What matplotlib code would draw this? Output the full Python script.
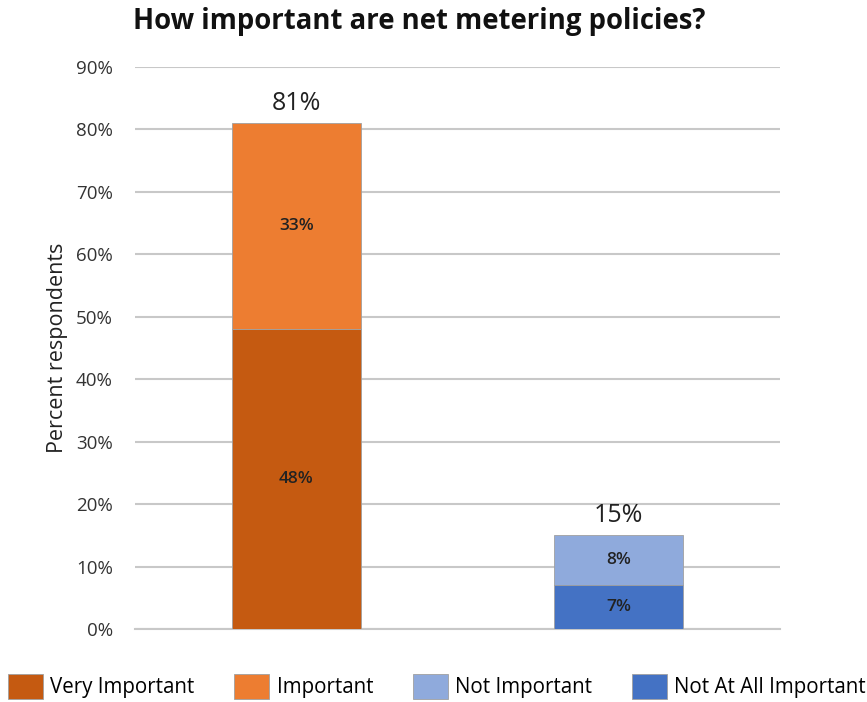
import matplotlib
matplotlib.use("Agg")
import matplotlib.pyplot as plt
import numpy as np

categories = ["Important", "Not Important"]
very_important = [48, 0]
important = [33, 0]
not_at_all = [0, 7]
not_important = [0, 8]
totals = [81, 15]
yticks = [0, 10, 20, 30, 40, 50, 60, 70, 80, 90]

plt.rcParams['font.family'] = ['Open Sans', 'DejaVu Sans']

fig = plt.figure(figsize=(8.67, 7.02), dpi=100)
ax = fig.add_axes([135/867, 1-629/702, 645/867, (629-67)/702])

x = np.arange(len(categories))
w = 0.4
c_vi, c_i, c_ni, c_na = "#C55A11", "#ED7D31", "#8FAADC", "#4472C4"
ec = "#A0A0A0"

b1 = ax.bar(x, very_important, w, color=c_vi, edgecolor=ec, linewidth=0.6, label="Very Important", zorder=3)
b2 = ax.bar(x, important, w, bottom=very_important, color=c_i, edgecolor=ec, linewidth=0.6, label="Important", zorder=3)
b3 = ax.bar(x, not_important, w, bottom=not_at_all, color=c_ni, edgecolor=ec, linewidth=0.6, label="Not Important", zorder=3)
b4 = ax.bar(x, not_at_all, w, color=c_na, edgecolor=ec, linewidth=0.6, label="Not At All Important", zorder=3)

lab_kw = dict(ha="center", va="center", fontsize=12.5, color="#222222", fontweight="semibold", zorder=4)
for i in range(len(categories)):
    if very_important[i]:
        ax.text(x[i], very_important[i]/2, f"{very_important[i]}%", **lab_kw)
    if important[i]:
        ax.text(x[i], very_important[i] + important[i]/2, f"{important[i]}%", **lab_kw)
    if not_at_all[i]:
        ax.text(x[i], not_at_all[i]/2, f"{not_at_all[i]}%", **lab_kw)
    if not_important[i]:
        ax.text(x[i], not_at_all[i] + not_important[i]/2, f"{not_important[i]}%", **lab_kw)
    ax.text(x[i], totals[i] + 1.2, f"{totals[i]}%", ha="center", va="bottom", fontsize=18, color="#222222", zorder=4)

ax.set_xlim(-0.5, 1.5)
ax.set_ylim(0, 90)
ax.set_yticks(yticks)
ax.set_yticklabels([f"{t}%" for t in yticks], fontsize=13.5, color="#333333")
ax.set_xticks([])
ax.grid(axis="y", color="#C8C8C8", linewidth=1.5, zorder=0)
for s in ["top", "right", "left"]:
    ax.spines[s].set_visible(False)
ax.spines["bottom"].set_color("#C8C8C8")
ax.spines["bottom"].set_linewidth(1.5)
ax.tick_params(axis="y", length=0, pad=16)
ax.set_ylabel("Percent respondents", fontsize=15.5, color="#222222", labelpad=6)

fig.text(419/867, 1-22/702, "How important are net metering policies?", ha="center", va="center",
         fontsize=19.8, fontweight="bold", color="#111111")

handles = [b1, b2, b3, b4]
fig.legend(handles, [h.get_label() for h in handles], loc="lower left",
           bbox_to_anchor=(8/867, 0.004, 858/867, 0.04), mode="expand",
           ncol=4, frameon=False, fontsize=14.8, handlelength=1.7, handleheight=1.5,
           handletextpad=0.35, borderaxespad=0, borderpad=0)

fig.savefig("out.png", dpi=100)
